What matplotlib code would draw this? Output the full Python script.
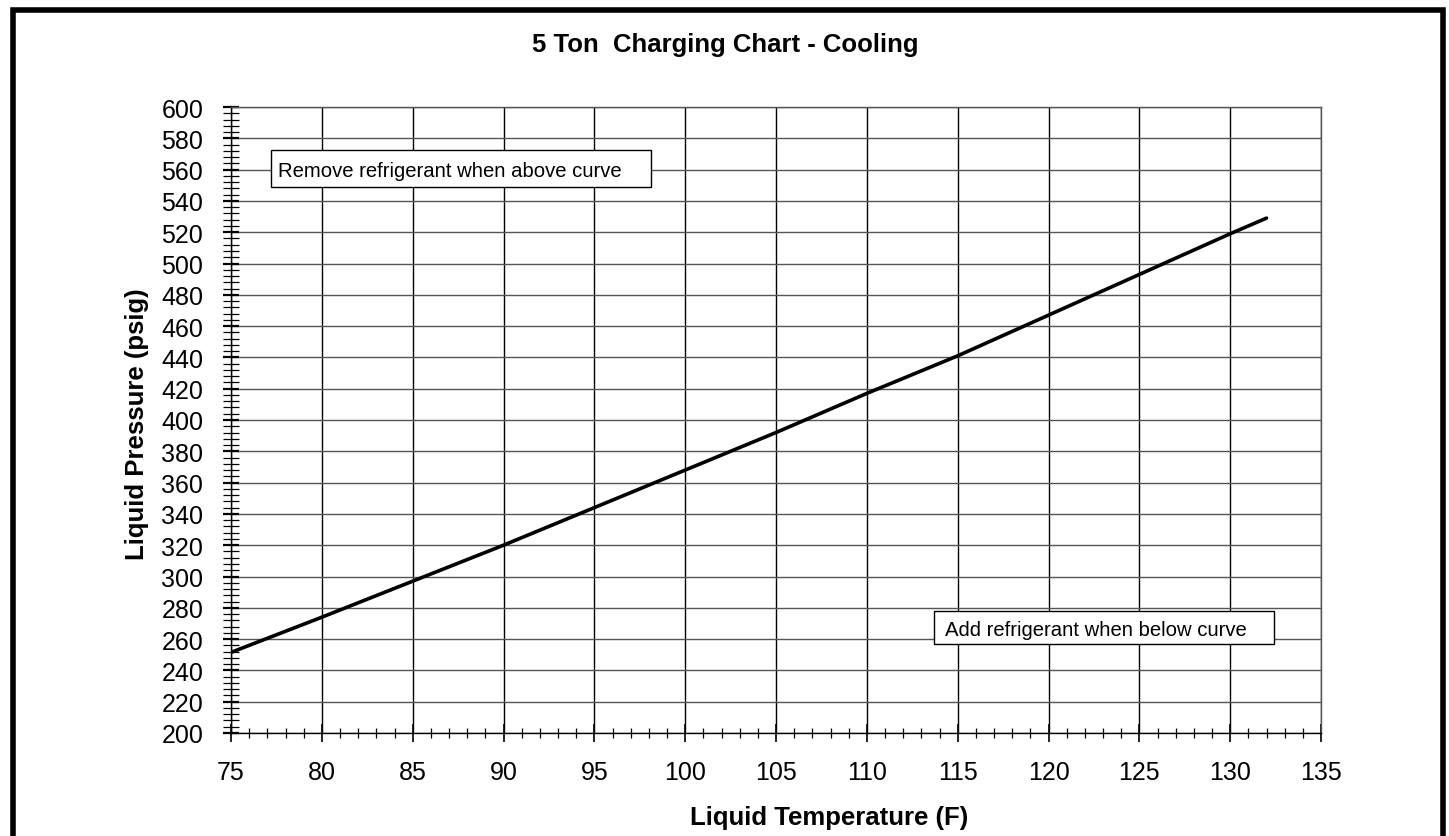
import matplotlib
matplotlib.use("Agg")
import matplotlib.pyplot as plt
from matplotlib.ticker import MultipleLocator
from matplotlib.lines import Line2D
from matplotlib.patches import Rectangle

plt.rcParams['font.family'] = ['Liberation Sans', 'DejaVu Sans']

# data
temp_f = [75, 80, 85, 90, 95, 100, 105, 110, 115, 120, 125, 130, 132]
pressure_psig = [251.5, 274, 297, 320, 344, 368, 392, 417, 441, 467, 493, 519, 529]

title = "5 Ton  Charging Chart - Cooling"
xlabel = "Liquid Temperature (F)"
ylabel = "Liquid Pressure (psig)"
note_above = "Remove refrigerant when above curve"
note_below = "Add refrigerant when below curve"

W, H = 1449, 837
fig = plt.figure(figsize=(W / 100, H / 100), dpi=100)
ax = fig.add_axes([231 / W, 1 - 734 / H, (1321 - 231) / W, (734 - 108) / H])

ax.plot(temp_f, pressure_psig, color='black', lw=2.6, solid_capstyle='round', zorder=3)

ax.set_xlim(75, 135)
ax.set_ylim(200, 600)
ax.xaxis.set_major_locator(MultipleLocator(5))
ax.xaxis.set_minor_locator(MultipleLocator(1))
ax.yaxis.set_major_locator(MultipleLocator(20))
ax.yaxis.set_minor_locator(MultipleLocator(4))

ax.grid(which='major', axis='x', color='black', lw=1.0)
ax.grid(which='major', axis='y', color='#555555', lw=1.0)
ax.set_axisbelow(True)

ax.tick_params(axis='x', which='major', direction='inout', length=13, width=1.2,
               pad=13, labelsize=18)
ax.tick_params(axis='x', which='minor', direction='inout', length=7.5, width=0.9)
ax.tick_params(axis='y', which='major', direction='inout', length=12, width=1.6,
               pad=14, labelsize=18)
ax.tick_params(axis='y', which='minor', direction='inout', length=11, width=0.9)

for s in ['top', 'right']:
    ax.spines[s].set_color('#555555')
    ax.spines[s].set_linewidth(1.0)
for s in ['left', 'bottom']:
    ax.spines[s].set_linewidth(1.0)

# annotation boxes
ax.add_patch(Rectangle((77.18, 548.7), 98.1 - 77.18, 572.5 - 548.7, facecolor='white',
                       edgecolor='black', lw=1.0, zorder=4))
ax.text(77.18 + 0.4, 560.6, note_above, fontsize=14.6, ha='left', va='center_baseline', zorder=5)
ax.add_patch(Rectangle((113.7, 256.9), 132.4 - 113.7, 277.8 - 256.9, facecolor='white',
                       edgecolor='black', lw=1.0, zorder=4))
ax.text(113.7 + 0.6, 267.3, note_below, fontsize=14.6, ha='left', va='center_baseline', zorder=5)

fig.text(725 / W, 1 - 45 / H, title, fontsize=18.5, fontweight='bold', ha='center', va='center')
fig.text(829 / W, 1 - 818 / H, xlabel, fontsize=18.5, fontweight='bold', ha='center', va='center')
fig.text(137 / W, 1 - 424 / H, ylabel, fontsize=18.5, fontweight='bold', ha='center', va='center',
         rotation=90)

# outer thick border (bottom edge falls outside the image)
bx = [12.5 / W, 12.5 / W, 1442.5 / W, 1442.5 / W]
by = [-0.1, 1 - 10.5 / H, 1 - 10.5 / H, -0.1]
fig.add_artist(Line2D(bx, by, transform=fig.transFigure, color='black', lw=4.0,
                      solid_joinstyle='miter'))

fig.savefig('out.png', dpi=100)
